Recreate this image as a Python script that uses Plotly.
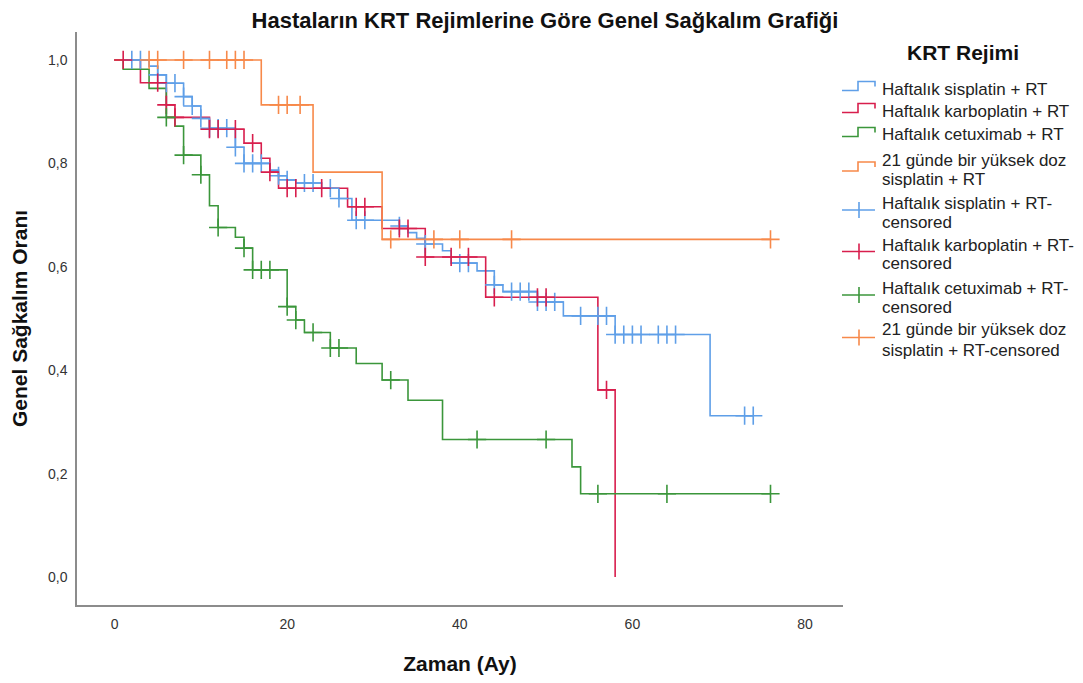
import plotly.graph_objects as go
import numpy as np

# ---- data ----
groups = [
    "Haftalık sisplatin + RT",
    "Haftalık karboplatin + RT",
    "Haftalık cetuximab + RT",
    "21 günde bir yüksek doz<br>sisplatin + RT",
]
censor_names = [
    "Haftalık sisplatin + RT-<br>censored",
    "Haftalık karboplatin + RT-<br>censored",
    "Haftalık cetuximab + RT-<br>censored",
    "21 günde bir yüksek doz<br>sisplatin + RT-censored",
]
colors = ["#5f9fe8", "#d81e4d", "#3b963b", "#f7894a"]

sis_t = [0, 4, 5, 6, 8, 9, 10, 11, 14, 15, 18, 19, 20, 21, 24, 26, 27.5, 33, 34, 35, 36, 38, 39, 42, 44, 45, 49, 52, 58, 69]
sis_s = [1.0, 0.988, 0.971, 0.955, 0.929, 0.911, 0.887, 0.868, 0.831, 0.80, 0.787, 0.776, 0.768, 0.762, 0.752, 0.732, 0.69,
         0.679, 0.666, 0.655, 0.644, 0.631, 0.607, 0.592, 0.565, 0.552, 0.532, 0.505, 0.469, 0.312]
sis_end = 74
sis_c = [2, 3, 5, 6, 7, 8, 9, 10, 11, 12, 13, 14, 15, 16, 17, 19, 20, 22, 23, 25, 26, 28, 29, 33, 36, 40, 41, 44,
         46, 47, 48, 49, 50, 51, 54, 56, 57, 58, 59, 60, 61, 63, 64, 65, 73, 74]

karb_t = [0, 3, 6, 7, 11, 15, 17, 18, 19, 27, 31, 36, 43, 56, 58]
karb_s = [1.0, 0.956, 0.913, 0.889, 0.866, 0.839, 0.81, 0.783, 0.752, 0.716, 0.674, 0.619, 0.541, 0.362, 0.0]
karb_end = 58
karb_c = [1, 5, 6, 7, 11, 12, 14, 16, 18, 20, 21, 24, 28, 29, 33, 34, 36, 39, 41, 44, 49, 50, 57]

cetu_t = [0, 1, 4, 6, 7, 8, 10, 11, 12, 14, 15, 16, 20, 21, 22, 25, 28, 31, 34, 38, 53, 54]
cetu_s = [1.0, 0.982, 0.945, 0.889, 0.872, 0.816, 0.778, 0.718, 0.676, 0.657, 0.636, 0.594, 0.523, 0.497, 0.473,
          0.443, 0.413, 0.381, 0.342, 0.266, 0.213, 0.161]
cetu_end = 76
cetu_c = [6, 8, 10, 12, 15, 16, 17, 18, 20, 21, 23, 25, 26, 32, 42, 50, 56, 64, 76]

yuk_t = [0, 17, 23, 31]
yuk_s = [1.0, 0.913, 0.783, 0.653]
yuk_end = 76
yuk_c = [4, 5, 8, 11, 13, 14, 15, 19, 20, 21.5, 32, 37, 40, 46, 76]

x_ticks = [0, 20, 40, 60, 80]
y_ticks = [0.0, 0.2, 0.4, 0.6, 0.8, 1.0]

series = [
    (sis_t, sis_s, sis_end, sis_c),
    (karb_t, karb_s, karb_end, karb_c),
    (cetu_t, cetu_s, cetu_end, cetu_c),
    (yuk_t, yuk_s, yuk_end, yuk_c),
]

FONT = "Liberation Sans, Arial, sans-serif"

# figure geometry (page has an 8px body margin)
W, H = 1075, 675
ML, MR, MT, MB = 69, 240, 24, 78
PW, PH = W - ML - MR, H - MT - MB
OFF = 8


def px(wx):  # window x -> paper x
    return (wx - OFF - ML) / PW


def py(wy):  # window y -> paper y
    return (H - MB - (wy - OFF)) / PH


def surv_at(t_arr, s_arr, t):
    idx = np.searchsorted(np.array(t_arr, dtype=float), t, side="right") - 1
    return s_arr[max(idx, 0)]


fig = go.Figure()
for i, (t, s, end, c) in enumerate(series):
    xs = list(t)
    ys = list(s)
    if end > xs[-1]:
        xs.append(end)
        ys.append(ys[-1])
    fig.add_trace(go.Scatter(x=xs, y=ys, mode="lines", line=dict(shape="hv", color=colors[i], width=1.6),
                             name=groups[i], hoverinfo="skip", showlegend=False))
for i, (t, s, end, c) in enumerate(series):
    cy = [surv_at(t, s, ct) for ct in c]
    fig.add_trace(go.Scatter(x=c, y=cy, mode="markers",
                             marker=dict(symbol="cross-thin", size=13, line=dict(color=colors[i], width=1.6)),
                             name=censor_names[i], hoverinfo="skip", showlegend=False))

# ---- legend drawn by hand (step-shaped icons like the reference) ----
annotations = [dict(text="<b>KRT Rejimi</b>", x=px(963), y=py(52), xref="paper", yref="paper",
                    xanchor="center", yanchor="middle", showarrow=False,
                    font=dict(size=21, color="#111111", family=FONT))]
shapes = []
line_rows = [[89], [111], [135], [160, 179], [203, 222], [245, 263], [288, 307], [330, 350]]
labels = groups + censor_names
for k, rows in enumerate(line_rows):
    parts = labels[k].split("<br>")
    for part, wy in zip(parts, rows):
        annotations.append(dict(text=part, x=px(880), y=py(wy), xref="paper", yref="paper",
                                xanchor="left", yanchor="middle", showarrow=False,
                                font=dict(size=17, color="#222222", family=FONT)))
    cy = sum(rows) / len(rows)
    col = colors[k % 4]
    if k < 4:
        c = cy - 3
        path = "M {} {} L {} {} L {} {} L {} {} L {} {}".format(
            px(842), py(c + 4.5), px(858), py(c + 4.5), px(858), py(c - 4.5),
            px(875), py(c - 4.5), px(875), py(c + 0.5))
        shapes.append(dict(type="path", path=path, xref="paper", yref="paper",
                           line=dict(color=col, width=1.6)))
    else:
        c = cy - 2.5
        shapes.append(dict(type="line", x0=px(842), x1=px(875), y0=py(c), y1=py(c), xref="paper", yref="paper",
                           line=dict(color=col, width=1.6)))
        shapes.append(dict(type="line", x0=px(859), x1=px(859), y0=py(c - 8), y1=py(c + 8), xref="paper",
                           yref="paper", line=dict(color=col, width=1.6)))

fig.update_layout(
    width=W, height=H,
    margin=dict(l=ML, r=MR, t=MT, b=MB, autoexpand=False),
    paper_bgcolor="white", plot_bgcolor="white",
    separators=",.",
    font=dict(family=FONT, color="#222222", size=14),
    title=dict(text="<b>Hastaların KRT Rejimlerine Göre Genel Sağkalım Grafiği</b>", x=(545 - OFF) / W,
               xanchor="center", y=1 - (20 - OFF) / H, yanchor="middle",
               font=dict(size=22, color="#111111")),
    showlegend=False,
    annotations=annotations,
    shapes=shapes,
    xaxis=dict(range=[-4.35, 84.4], tickvals=x_ticks, ticks="", showgrid=False, zeroline=False,
               showline=True, linecolor="#8c8c8c", linewidth=1.5, automargin=False, ticklabelstandoff=5,
               title=dict(text="<b>Zaman (Ay)</b>", font=dict(size=21, color="#111111"), standoff=26),
               tickfont=dict(size=14, color="#333333")),
    yaxis=dict(range=[-0.054, 1.054], tickvals=y_ticks, tickformat=".1f", ticks="", showgrid=False, zeroline=False,
               showline=True, linecolor="#8c8c8c", linewidth=1.5, automargin=False, ticklabelstandoff=5,
               title=dict(text="<b>Genel Sağkalım Oranı</b>", font=dict(size=21, color="#111111"), standoff=18),
               tickfont=dict(size=14, color="#333333")),
)

fig.write_html("out.html")
